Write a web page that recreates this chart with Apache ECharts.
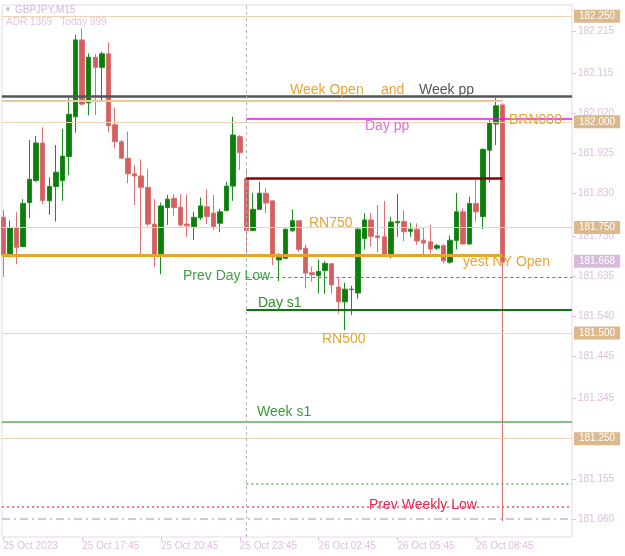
<!DOCTYPE html>
<html><head><meta charset="utf-8">
<script src="https://cdn.jsdelivr.net/npm/echarts/dist/echarts.min.js"></script>
<style>html,body{margin:0;padding:0;background:#fff}#c{width:625px;height:556px}</style>
</head><body><div id="c"></div>
<script>
// ---- data ----
const timeTickIdx = [0, 12, 24, 36, 48, 60, 72];
const timeLabels = ['25 Oct 2023', '25 Oct 17:45', '25 Oct 20:45', '25 Oct 23:45', '26 Oct 02:45', '26 Oct 05:45', '26 Oct 08:45'];
const priceTicks = [182.215, 182.115, 182.020, 181.925, 181.830, 181.730, 181.635, 181.540, 181.445, 181.345, 181.155, 181.060];

const opens = [181.774,181.683,181.750,181.705,181.809,181.861,181.950,181.813,181.847,181.861,
181.918,182.012,182.194,182.045,182.153,182.129,182.161,181.993,181.953,181.914,
181.877,181.872,181.845,181.758,181.687,181.797,181.819,181.798,181.758,181.752,
181.773,181.799,181.784,181.760,181.790,181.848,181.965,181.866,181.743,181.793,
181.831,181.813,181.673,181.677,181.742,181.766,181.701,181.643,181.636,181.648,
181.664,181.609,181.574,181.603,181.595,181.724,181.768,181.730,181.728,181.685,
181.761,181.764,181.741,181.746,181.720,181.716,181.701,181.707,181.668,181.719,
181.787,181.711,181.807,181.776,181.933,181.995,182.040];
const closes = [181.685,181.750,181.703,181.807,181.864,181.950,181.814,181.847,181.881,181.919,
182.018,182.194,182.042,182.153,182.129,182.161,181.991,181.953,181.914,181.877,
181.872,181.845,181.758,181.687,181.801,181.817,181.797,181.756,181.754,181.774,
181.801,181.776,181.752,181.787,181.848,181.969,181.927,181.743,181.793,181.831,
181.808,181.680,181.679,181.746,181.766,181.698,181.642,181.638,181.646,181.665,
181.614,181.574,181.604,181.604,181.746,181.768,181.729,181.726,181.687,181.763,
181.764,181.740,181.746,181.718,181.713,181.699,181.707,181.671,181.720,181.787,
181.711,181.807,181.787,181.935,181.998,182.038,181.668];
const lows = [181.633,181.679,181.663,181.703,181.772,181.858,181.805,181.780,181.764,181.813,
181.874,181.974,182.038,182.015,182.016,182.050,181.975,181.937,181.912,181.855,
181.803,181.687,181.752,181.657,181.639,181.756,181.778,181.752,181.728,181.720,
181.768,181.758,181.744,181.739,181.788,181.813,181.886,181.685,181.741,181.792,
181.784,181.661,181.623,181.675,181.740,181.692,181.606,181.622,181.594,181.593,
181.593,181.546,181.507,181.543,181.581,181.698,181.705,181.692,181.685,181.677,
181.728,181.718,181.728,181.709,181.685,181.689,181.697,181.665,181.664,181.698,
181.709,181.709,181.764,181.746,181.856,181.945,181.055];
const highs = [181.791,181.766,181.786,181.817,181.957,181.967,181.987,181.869,181.945,181.983,
182.056,182.206,182.221,182.162,182.160,182.166,182.188,182.034,181.957,181.977,
181.898,181.911,181.888,181.817,181.809,181.827,181.829,181.829,181.829,181.787,
181.821,181.841,181.827,181.794,181.858,182.012,181.969,181.886,181.832,181.858,
181.843,181.814,181.689,181.747,181.793,181.767,181.710,181.657,181.674,181.671,
181.666,181.630,181.619,181.612,181.748,181.784,181.784,181.803,181.813,181.775,
181.829,181.791,181.761,181.760,181.749,181.756,181.711,181.711,181.731,181.832,
181.795,181.823,181.862,181.937,182.004,182.056,182.044];

const roundLevels = [182.250, 182.000, 181.750, 181.500, 181.250];
const bidPrice = 181.668;
const weekPP = 182.058, weekOpen = 182.050, dayPP = 182.007, dayOpen = 181.867;
const yestNYOpen = 181.684, prevDayLow = 181.633, dayS1 = 181.556, weekS1 = 181.294;
const weekS2 = 181.143, prevWeeklyLow = 181.086, monthLevel = 181.055;
const dayStartIdx = 37, lastIdx = 76;

// ---- chart ----
const X_MIN = -0.198, X_MAX = 86.58, Y_MIN = 181.0174, Y_MAX = 182.2766;
const AX = '#dcc0dc';
const chart = echarts.init(document.getElementById('c'), null, {renderer: 'canvas'});
const candleData = opens.map((o, i) => [i, o, closes[i], lows[i], highs[i]]);

function seg(x1, x2, v, ls) { return [{coord: [x1, v], lineStyle: ls}, {coord: [x2, v]}]; }
function full(v, ls) { return {yAxis: v, lineStyle: ls}; }

const boxLabel = (text, bg) => ({show: true, position: 'end', distance: 2, formatter: text, color: '#fff',
  backgroundColor: bg, fontSize: 10, fontFamily: 'Liberation Sans', padding: [2, 5, 1, 5]});

const lines = [];
roundLevels.forEach(v => lines.push({
  yAxis: v, lineStyle: {color: '#edd3b2', width: 1, type: 'solid'}, label: boxLabel(v.toFixed(3), '#dcb98c')
}));
lines.push({
  yAxis: bidPrice, lineStyle: {color: 'rgba(255,255,255,0)', width: 1},
  label: boxLabel(bidPrice.toFixed(3), '#d6bcd9')
});
lines.push(full(weekPP, {color: '#4f5757', width: 2.5, type: 'solid'}));
lines.push(seg(X_MIN, lastIdx, weekOpen, {color: '#e8c8a0', width: 2, type: 'solid'}));
lines.push(seg(dayStartIdx, X_MAX, dayPP, {color: '#ff00ff', width: 1.5, type: 'solid'}));
lines.push(seg(dayStartIdx, lastIdx, dayOpen, {color: '#8b0000', width: 2.5, type: 'solid'}));
lines.push(seg(X_MIN, lastIdx, yestNYOpen, {color: '#e3a82b', width: 3, type: 'solid'}));
lines.push(seg(dayStartIdx, X_MAX, prevDayLow, {color: '#2e8b8b', width: 1, type: [3, 3]}));
lines.push(seg(dayStartIdx, X_MAX, dayS1, {color: '#008000', width: 2, type: 'solid'}));
lines.push(full(weekS1, {color: '#55ad55', width: 1.5, type: 'solid'}));
lines.push(seg(dayStartIdx, X_MAX, weekS2, {color: '#5cb85c', width: 1.5, type: [2, 3]}));
lines.push(full(prevWeeklyLow, {color: '#f0506e', width: 1.5, type: [2, 3]}));
lines.push(full(monthLevel, {color: '#c3b3e6', width: 1.5, type: [8, 4, 2, 4]}));
lines.push({xAxis: dayStartIdx, lineStyle: {color: '#b4b4b4', width: 1, type: [3, 3]}});

function txt(text, x, y, color, size) {
  return {type: 'text', z: 50, style: {text: text, x: x, y: y, fill: color,
    font: (size || 14) + 'px "Liberation Sans", Arial, sans-serif', textVerticalAlign: 'middle', textAlign: 'left'}};
}

chart.setOption({
  animation: false,
  backgroundColor: '#ffffff',
  grid: {left: 2, right: 53, top: 5, bottom: 19, show: true, borderColor: '#e6d6ea', borderWidth: 1},
  xAxis: {
    type: 'value', min: X_MIN, max: X_MAX,
    axisLine: {show: false, onZero: false}, splitLine: {show: false},
    axisTick: {show: true, customValues: timeTickIdx, length: 4, lineStyle: {color: AX}},
    axisLabel: {show: true, customValues: timeTickIdx, align: 'left', margin: 4, color: AX, fontSize: 10,
      fontFamily: 'Liberation Sans', formatter: v => timeLabels[timeTickIdx.indexOf(Math.round(v))] || ''}
  },
  yAxis: {
    type: 'value', position: 'right', min: Y_MIN, max: Y_MAX, scale: true,
    axisLine: {show: false, onZero: false}, splitLine: {show: false},
    axisTick: {show: true, customValues: priceTicks, length: 4, lineStyle: {color: AX}},
    axisLabel: {show: true, customValues: priceTicks, margin: 6, color: AX, fontSize: 10,
      fontFamily: 'Liberation Sans', formatter: v => v.toFixed(3)}
  },
  series: [
    {
      type: 'line', data: [], z: 1, silent: true,
      markLine: {symbol: ['none', 'none'], silent: true, animation: false, label: {show: false}, data: lines}
    },
    {
      type: 'candlestick', z: 3, data: candleData, barWidth: 5,
      itemStyle: {color: '#0a800a', color0: '#d45f5f', borderColor: '#1e8c1e', borderColor0: '#da7070', borderWidth: 1}
    }
  ],
  graphic: [
    txt('▼', 4, 10, '#d6b6d6', 8),
    txt('GBPJPY,M15', 15, 10, '#d6b6d6', 10),
    txt('ADR 1369   Today 999', 6, 22, '#dcc4e4', 10),
    txt('Week Open', 290, 90, '#e3a633'),
    txt('and', 381, 90, '#e3a633'),
    txt('Week pp', 419, 90, '#555555'),
    txt('Day pp', 365, 126, '#dc6fdc'),
    txt('BRN000', 509, 120, '#e3a633'),
    txt('RN750', 309, 223, '#e3a633'),
    txt('yest NY Open', 463, 262, '#e3a633'),
    txt('Prev Day Low', 183, 276, '#43a047'),
    txt('Day s1', 258, 303, '#2f8f2f'),
    txt('RN500', 322, 339, '#e3a633'),
    txt('Week s1', 257, 412, '#3a9a3a'),
    txt('Prev Weekly Low', 369, 505, '#e8264f')
  ]
});
</script></body></html>
